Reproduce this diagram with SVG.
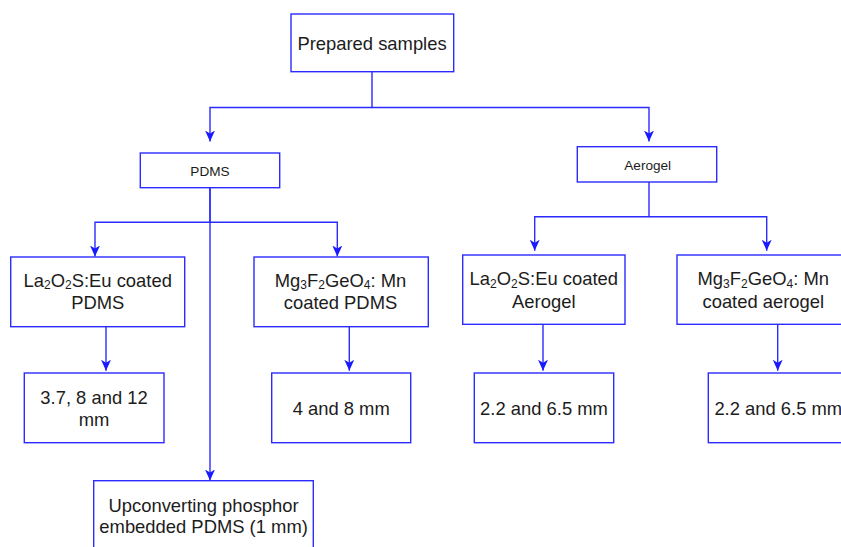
<svg xmlns="http://www.w3.org/2000/svg" width="841" height="547" viewBox="0 0 841 547">
  <style>
    .box { fill: #ffffff; stroke: #2b2bff; stroke-width: 1.4; }
    .conn { fill: none; stroke: #2b2bff; stroke-width: 1.4; }
    .t { font-family: "Liberation Sans", Arial, sans-serif; font-size: 18.4px; fill: #1c1c1c; text-anchor: middle; }
    .s { font-family: "Liberation Sans", Arial, sans-serif; font-size: 13.6px; fill: #1c1c1c; text-anchor: middle; }
    .sub { font-size: 12px; }
  </style>
  <defs>
    <marker id="arr" viewBox="0 0 11 10" markerWidth="11" markerHeight="10" refX="11" refY="5" orient="auto" markerUnits="userSpaceOnUse">
      <path d="M0,0 L11,5 L0,10 L3,5 Z" fill="#1a1aff"/>
    </marker>
  </defs>
  <rect width="841" height="547" fill="#ffffff"/>

  <g id="connectors">
    <path class="conn" d="M372,71.7 V107.5 H210 V141.5" marker-end="url(#arr)"/>
    <path class="conn" d="M372,107.5 H649 V141.5" marker-end="url(#arr)"/>
    <path class="conn" d="M210,187.7 V222.3 H95 V256.5" marker-end="url(#arr)"/>
    <path class="conn" d="M210,222.3 H337.3 V256.5" marker-end="url(#arr)"/>
    <path class="conn" d="M210,187.7 V480.5" marker-end="url(#arr)"/>
    <path class="conn" d="M649,182 V216.7 H534.7 V250.7" marker-end="url(#arr)"/>
    <path class="conn" d="M649,216.7 H766.7 V250.7" marker-end="url(#arr)"/>
    <path class="conn" d="M106,326.7 V370.7" marker-end="url(#arr)"/>
    <path class="conn" d="M349.3,326.7 V370.7" marker-end="url(#arr)"/>
    <path class="conn" d="M543,324.3 V370.7" marker-end="url(#arr)"/>
    <path class="conn" d="M777.7,324.3 V370.7" marker-end="url(#arr)"/>
  </g>

  <g id="prepared">
    <rect class="box" x="291" y="14" width="162.7" height="57.7"/>
    <text class="t" x="372" y="50">Prepared samples</text>
  </g>

  <g id="pdms">
    <rect class="box" x="140.3" y="153" width="139.4" height="34.7"/>
    <text class="s" x="210" y="175.7">PDMS</text>
  </g>

  <g id="aerogel">
    <rect class="box" x="577.3" y="146.7" width="139.4" height="35.3"/>
    <text class="s" x="647.7" y="170">Aerogel</text>
  </g>

  <g id="la-pdms">
    <rect class="box" x="10.7" y="257" width="174" height="69.7"/>
    <text class="t" x="97.7" y="286.5">La<tspan class="sub" dy="2.5">2</tspan><tspan dy="-2.5">O</tspan><tspan class="sub" dy="2.5">2</tspan><tspan dy="-2.5">S:Eu coated</tspan></text>
    <text class="t" x="97.7" y="308.5">PDMS</text>
  </g>

  <g id="mg-pdms">
    <rect class="box" x="254" y="257" width="174.3" height="69.7"/>
    <text class="t" x="340.5" y="286.5">Mg<tspan class="sub" dy="2.5">3</tspan><tspan dy="-2.5">F</tspan><tspan class="sub" dy="2.5">2</tspan><tspan dy="-2.5">GeO</tspan><tspan class="sub" dy="2.5">4</tspan><tspan dy="-2.5">: Mn</tspan></text>
    <text class="t" x="340.5" y="308.5">coated PDMS</text>
  </g>

  <g id="la-aerogel">
    <rect class="box" x="462.7" y="255" width="162.3" height="69.3"/>
    <text class="t" x="543.8" y="285">La<tspan class="sub" dy="2.5">2</tspan><tspan dy="-2.5">O</tspan><tspan class="sub" dy="2.5">2</tspan><tspan dy="-2.5">S:Eu coated</tspan></text>
    <text class="t" x="543.8" y="307.5">Aerogel</text>
  </g>

  <g id="mg-aerogel">
    <rect class="box" x="677" y="255" width="173" height="69.3"/>
    <text class="t" x="763.3" y="285">Mg<tspan class="sub" dy="2.5">3</tspan><tspan dy="-2.5">F</tspan><tspan class="sub" dy="2.5">2</tspan><tspan dy="-2.5">GeO</tspan><tspan class="sub" dy="2.5">4</tspan><tspan dy="-2.5">: Mn</tspan></text>
    <text class="t" x="763.3" y="307.5">coated aerogel</text>
  </g>

  <g id="la-pdms-size">
    <rect class="box" x="24.3" y="373" width="139.7" height="69.7"/>
    <text class="t" x="94" y="404">3.7, 8 and 12</text>
    <text class="t" x="94" y="425.7">mm</text>
  </g>

  <g id="mg-pdms-size">
    <rect class="box" x="271.7" y="373" width="139" height="69.7"/>
    <text class="t" x="341.2" y="415">4 and 8 mm</text>
  </g>

  <g id="la-aerogel-size">
    <rect class="box" x="474.3" y="373" width="139.4" height="69.7"/>
    <text class="t" x="544" y="415">2.2 and 6.5 mm</text>
  </g>

  <g id="mg-aerogel-size">
    <rect class="box" x="708.3" y="373" width="139.4" height="69.7"/>
    <text class="t" x="778.3" y="415">2.2 and 6.5 mm</text>
  </g>

  <g id="upconverting">
    <rect class="box" x="93.7" y="480.7" width="219.6" height="80"/>
    <text class="t" x="203.6" y="511.6">Upconverting phosphor</text>
    <text class="t" x="203.6" y="533.4">embedded PDMS (1 mm)</text>
  </g>
</svg>
